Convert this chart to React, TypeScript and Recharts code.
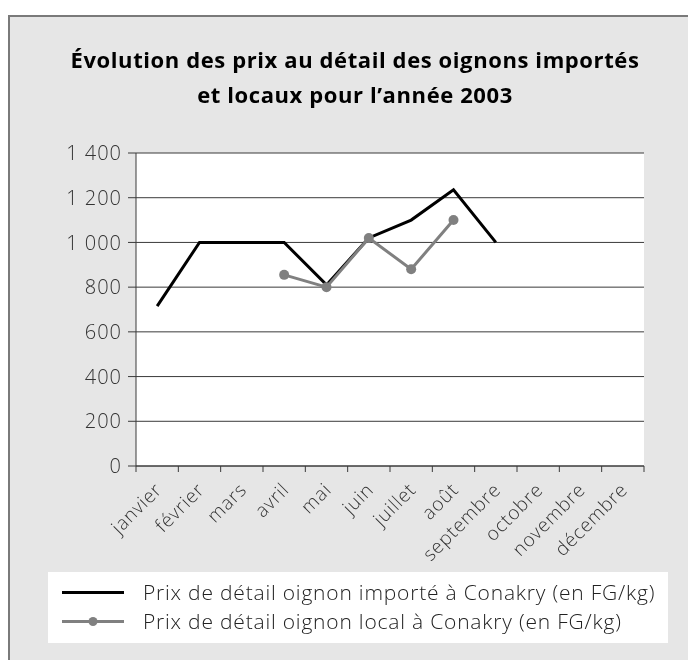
import React from 'react';
import { LineChart, Line, XAxis, YAxis, CartesianGrid, Legend } from 'recharts';

const months = ['janvier', 'février', 'mars', 'avril', 'mai', 'juin', 'juillet', 'août', 'septembre', 'octobre', 'novembre', 'décembre'];
const importedPrices: (number | null)[] = [715, 1000, 1000, 1000, 810, 1020, 1100, 1235, 1000, null, null, null];
const localPrices: (number | null)[] = [null, null, null, 855, 800, 1020, 880, 1100, null, null, null, null];
const yTicks = [0, 200, 400, 600, 800, 1000, 1200, 1400];
const importedName = 'Prix de détail oignon importé à Conakry (en FG/kg)';
const localName = 'Prix de détail oignon local à Conakry (en FG/kg)';
const titleLines = ['Évolution des prix au détail des oignons importés', 'et locaux pour l’année 2003'];

const data = months.map((m, i) => ({ month: m, imported: importedPrices[i], local: localPrices[i] }));

const CHART_W = 688;
const CHART_H = 660;
const MARGIN = { top: 153, right: 44, bottom: 114, left: 76 };
const Y_AXIS_W = 60;
const PLOT_W = CHART_W - MARGIN.left - MARGIN.right - Y_AXIS_W;
const BAND = PLOT_W / months.length;

const FONT = '"Open Sans", "Noto Sans", sans-serif';
const AXIS_COLOR = '#3a3a3a';

const fmt = (v: number) => {
  const s = String(v);
  return s.length > 3 ? s.slice(0, s.length - 3) + ' ' + s.slice(-3) : s;
};

const MonthTick = (props: any) => {
  const { x, y, payload, index } = props;
  const last = index === months.length - 1;
  const tx = x + 6;
  const ty = y + 25;
  return (
    <g>
      <line x1={x - BAND / 2} x2={x - BAND / 2} y1={y} y2={y + 6} stroke={AXIS_COLOR} strokeWidth={1} />
      {last && <line x1={x + BAND / 2} x2={x + BAND / 2} y1={y} y2={y + 6} stroke={AXIS_COLOR} strokeWidth={1} />}
      <text
        x={tx}
        y={ty}
        transform={`rotate(-45, ${tx}, ${ty})`}
        textAnchor="end"
        fontFamily={FONT}
        fontWeight={300}
        fontSize={19}
        letterSpacing={0.8}
        fill="#333"
      >
        {payload.value}
      </text>
    </g>
  );
};

const LegendContent = (props: any) => {
  const payload = props.payload || [];
  return (
    <div style={{ background: '#fff', width: 620, height: 71, boxSizing: 'border-box', paddingTop: 6 }}>
      {payload.map((p: any) => {
        const isLocal = p.dataKey === 'local';
        return (
          <div key={p.value} style={{ display: 'flex', alignItems: 'center', height: 29 }}>
            <svg width={95} height={29} style={{ display: 'block' }}>
              <line x1={14} x2={76} y1={14.5} y2={14.5} stroke={p.color} strokeWidth={3} />
              {isLocal && <circle cx={45} cy={14.5} r={4.5} fill={p.color} />}
            </svg>
            <span
              style={{
                fontFamily: FONT,
                fontSize: 21,
                fontWeight: 300,
                letterSpacing: 0.8,
                color: '#222',
                lineHeight: '29px',
                whiteSpace: 'nowrap',
              }}
            >
              {p.value}
            </span>
          </div>
        );
      })}
    </div>
  );
};

export default function App() {
  return (
    <div style={{ position: 'fixed', left: 0, top: 0, width: CHART_W, height: CHART_H, overflow: 'hidden' }}>
      <div
        style={{
          position: 'absolute',
          left: 8,
          top: 15,
          width: CHART_W - 8,
          height: CHART_H - 15,
          background: '#e6e6e6',
          borderTop: '2px solid #7a7a7a',
          borderLeft: '2px solid #7a7a7a',
          boxSizing: 'border-box',
        }}
      />
      <div
        style={{
          position: 'absolute',
          left: 0,
          top: 42,
          width: 710,
          textAlign: 'center',
          fontFamily: FONT,
          fontWeight: 700,
          fontSize: 22,
          letterSpacing: 0.6,
          lineHeight: '35px',
          color: '#000',
          whiteSpace: 'nowrap',
        }}
      >
        {titleLines.map((l) => (
          <div key={l}>{l}</div>
        ))}
      </div>
      <div style={{ position: 'absolute', left: 0, top: 0 }}>
        <LineChart width={CHART_W} height={CHART_H} data={data} margin={MARGIN}>
          <CartesianGrid vertical={false} stroke={AXIS_COLOR} strokeOpacity={1} fill="#fff" />
          <XAxis
            dataKey="month"
            scale="band"
            interval={0}
            height={80}
            tickLine={false}
            tickSize={0}
            tickMargin={0}
            axisLine={{ stroke: AXIS_COLOR }}
            tick={<MonthTick />}
          />
          <YAxis
            width={Y_AXIS_W}
            domain={[0, 1400]}
            ticks={yTicks}
            tickFormatter={fmt}
            tickSize={8}
            tickMargin={6}
            axisLine={{ stroke: AXIS_COLOR }}
            tickLine={{ stroke: AXIS_COLOR }}
            tick={{ fontFamily: FONT, fontSize: 20, fontWeight: 300, letterSpacing: 1, fill: '#333' }}
          />
          <YAxis
            yAxisId="right"
            orientation="right"
            width={0}
            domain={[0, 1400]}
            tick={false}
            tickLine={false}
            axisLine={{ stroke: AXIS_COLOR }}
          />
          <Legend
            layout="horizontal"
            verticalAlign="middle"
            align="center"
            wrapperStyle={{ left: 48, top: 572, width: 620, height: 71 }}
            content={<LegendContent />}
          />
          <Line
            dataKey="imported"
            name={importedName}
            stroke="#000"
            strokeWidth={3}
            dot={false}
            activeDot={false}
            isAnimationActive={false}
          />
          <Line
            dataKey="local"
            name={localName}
            stroke="#808080"
            strokeWidth={3}
            dot={{ r: 5, fill: '#808080', stroke: '#808080', strokeWidth: 0 }}
            activeDot={false}
            isAnimationActive={false}
          />
        </LineChart>
      </div>
    </div>
  );
}
